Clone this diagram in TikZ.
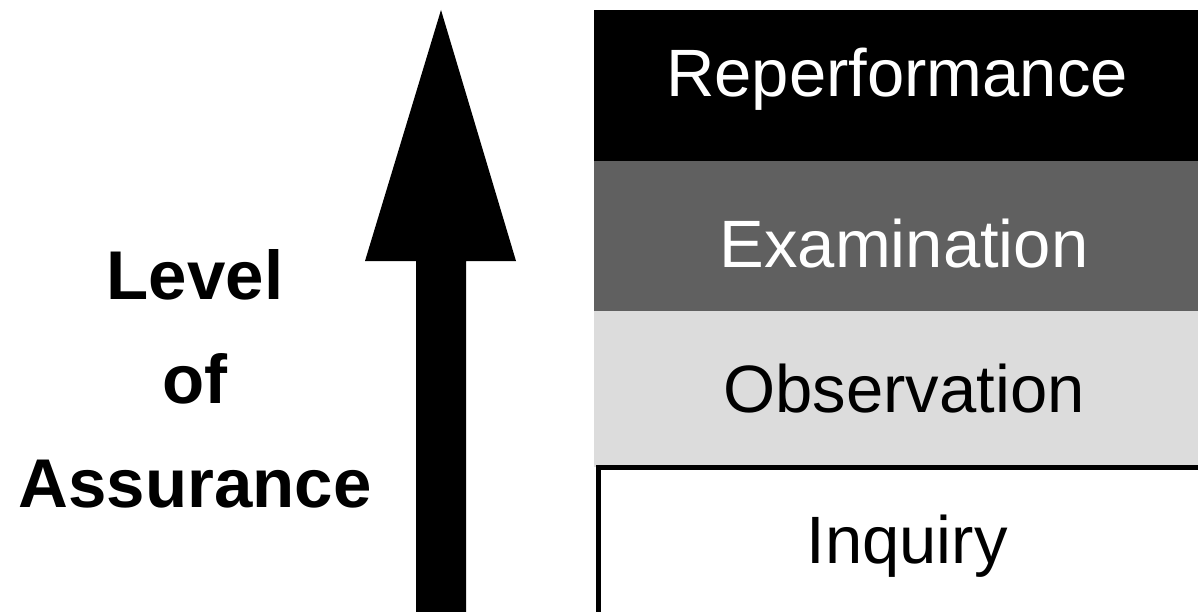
\documentclass[tikz,border=0pt]{standalone}
\usepackage{fontspec}
\setmainfont{Liberation Sans}
\usetikzlibrary{positioning}

\definecolor{examgray}{HTML}{606060}
\definecolor{obsgray}{HTML}{DCDCDC}

\tikzset{
  tier/.style={rectangle, inner sep=0pt, minimum width=640pt, anchor=north west},
  tiertext/.style={font=\fontsize{67}{80}\selectfont, anchor=base, inner sep=0pt},
}

\begin{document}
\begin{tikzpicture}[x=1pt, y=-1pt]
\clip (0,0) rectangle (1198,612);
\fill[white] (0,0) rectangle (1198,612);
% --- arrow ---
\fill[black] (441,10) -- (516,261) -- (466,261) -- (466,640)
  -- (416,640) -- (416,261) -- (365,261) -- cycle;
\node[font=\fontsize{69}{104}\selectfont\bfseries, align=center, anchor=base, inner sep=0pt]
  (level) at (195,507) {Level\\of\\Assurance};
% --- tiers ---
\node[tier, fill=black, minimum height=151pt] (reperf) at (594,10) {};
\node[tier, fill=examgray, minimum height=151pt, below=-1pt of reperf] (exam) {};
\node[tier, fill=obsgray, minimum height=156pt, below=-1pt of exam] (observ) {};
\node[tier, fill=white, draw=black, line width=5pt, minimum height=180pt]
  (inquiry) at (595.5,465) {};
\node[tiertext, text=white] (treperf) at (897,97) {Reperformance};
\node[tiertext, text=white] (texam) at (904,267) {Examination};
\node[tiertext] (tobserv) at (904,412) {Observation};
\node[tiertext] (tinquiry) at (907,563) {Inquiry};
\end{tikzpicture}
\end{document}
